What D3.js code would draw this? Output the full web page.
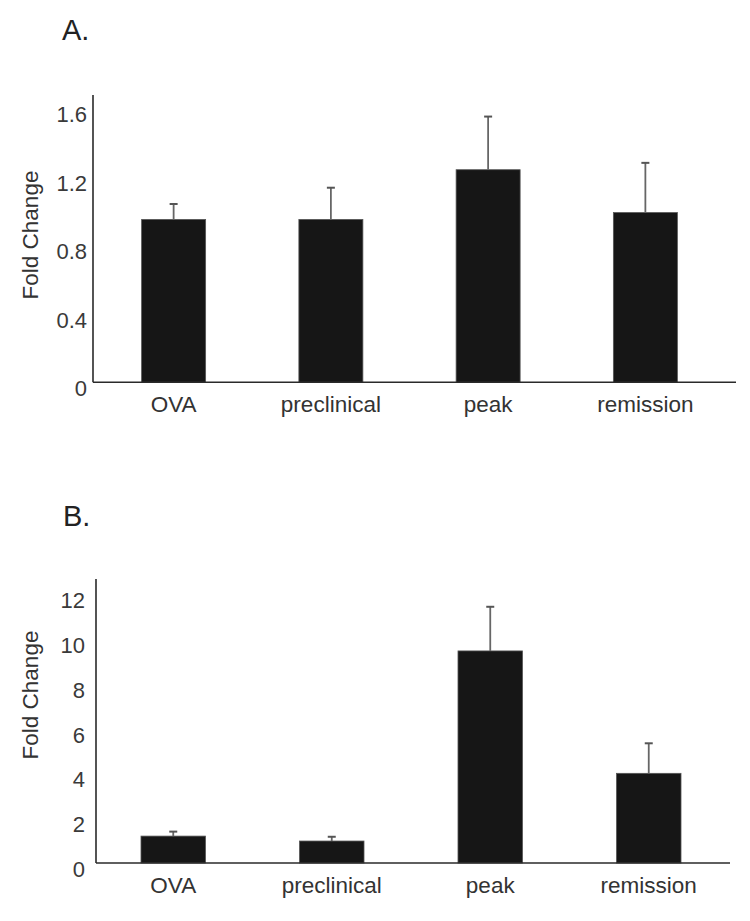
<!DOCTYPE html>
<html>
<head>
<meta charset="utf-8">
<script src="https://cdn.jsdelivr.net/npm/d3@7"></script>
<style>
  html, body { margin: 0; padding: 0; background: #fff; }
  svg { display: block; }
  text { font-family: "Liberation Sans", Arial, Helvetica, sans-serif; fill: #333; }
</style>
</head>
<body>
<svg id="chart" width="750" height="921"></svg>
<script>
// ---- Data ----
const categories = ["OVA", "preclinical", "peak", "remission"];

const panelALabel = "A.";
const panelAMeans = [0.95, 0.95, 1.24, 0.99];
const panelAErrors = [0.09, 0.185, 0.31, 0.29];
const panelATicks = [0, 0.4, 0.8, 1.2, 1.6];
const panelATickLabels = ["0", "0.4", "0.8", "1.2", "1.6"];

const panelBLabel = "B.";
const panelBMeans = [1.2, 0.98, 9.46, 4.0];
const panelBErrors = [0.2, 0.19, 1.97, 1.34];
const panelBTicks = [0, 2, 4, 6, 8, 10, 12];
const panelBTickLabels = ["0", "2", "4", "6", "8", "10", "12"];

const yTitle = "Fold Change";

// ---- Drawing ----
const svg = d3.select("#chart");

function drawPanel(opt) {
  const g = svg.append("g");
  const x = d3.scaleBand()
    .domain(categories)
    .range([opt.bandLeft, opt.bandRight])
    .paddingInner(0.593)
    .paddingOuter(0.2965);
  const y = d3.scaleLinear()
    .domain([0, opt.yMax])
    .range([opt.y0, opt.yTop]);

  // panel letter
  g.append("text")
    .attr("x", opt.letterX).attr("y", opt.letterY)
    .attr("font-size", 29).style("fill", "#222")
    .text(opt.letter);

  // y axis labels (no tick marks)
  const yAxis = d3.axisLeft(y)
    .tickValues(opt.ticks)
    .tickFormat((d, i) => opt.tickLabels[i])
    .tickSize(0)
    .tickPadding(opt.tickPad);
  const ya = g.append("g")
    .attr("transform", `translate(${opt.axisX},0)`)
    .call(yAxis);
  ya.select(".domain").remove();
  ya.selectAll("text")
    .attr("font-size", 22)
    .attr("dy", "0.62em")
    .style("fill", "#3a3a3a");

  // y axis line
  g.append("line")
    .attr("x1", opt.axisX).attr("x2", opt.axisX)
    .attr("y1", opt.axisTop).attr("y2", y(0))
    .attr("stroke", "#2a2a2a").attr("stroke-width", 1.6);

  // bars
  const data = categories.map((c, i) => ({ c, m: opt.means[i], e: opt.errors[i] }));
  g.selectAll("rect.bar").data(data).enter().append("rect")
    .attr("class", "bar")
    .attr("x", d => x(d.c))
    .attr("width", x.bandwidth())
    .attr("y", d => y(d.m))
    .attr("height", d => y(0) - y(d.m))
    .attr("fill", "#161616")
    .attr("stroke", "#555").attr("stroke-width", 0.8);

  // error bars (upper only)
  g.selectAll("line.err").data(data).enter().append("line")
    .attr("class", "err")
    .attr("x1", d => x(d.c) + x.bandwidth() / 2)
    .attr("x2", d => x(d.c) + x.bandwidth() / 2)
    .attr("y1", d => y(d.m))
    .attr("y2", d => y(d.m + d.e))
    .attr("stroke", "#666").attr("stroke-width", 1.8);
  g.selectAll("line.cap").data(data).enter().append("line")
    .attr("class", "cap")
    .attr("x1", d => x(d.c) + x.bandwidth() / 2 - 4)
    .attr("x2", d => x(d.c) + x.bandwidth() / 2 + 4)
    .attr("y1", d => y(d.m + d.e))
    .attr("y2", d => y(d.m + d.e))
    .attr("stroke", "#555").attr("stroke-width", 2);

  // x axis line
  g.append("line")
    .attr("x1", opt.axisX).attr("x2", opt.axisRight)
    .attr("y1", y(0)).attr("y2", y(0))
    .attr("stroke", "#2a2a2a").attr("stroke-width", 1.6);

  // x category labels
  const xAxis = d3.axisBottom(x).tickSize(0).tickPadding(0);
  const xa = g.append("g")
    .attr("transform", `translate(0,${opt.xLabelBaseline})`)
    .call(xAxis);
  xa.select(".domain").remove();
  xa.selectAll("text")
    .attr("font-size", 22.5)
    .attr("dy", 0)
    .attr("y", 0)
    .style("fill", "#333");

  // y title
  g.append("text")
    .attr("transform", `translate(${opt.titleX},${opt.titleY}) rotate(-90)`)
    .attr("text-anchor", "middle")
    .attr("font-size", 22.5)
    .style("fill", "#333")
    .text(yTitle);
}

drawPanel({
  letter: panelALabel, letterX: 62, letterY: 40,
  means: panelAMeans, errors: panelAErrors,
  ticks: panelATicks, tickLabels: panelATickLabels,
  yMax: 1.6, y0: 382.3, yTop: 108,
  axisX: 93, axisTop: 95, axisRight: 736,
  bandLeft: 95, bandRight: 724,
  tickPad: 6, xLabelBaseline: 412,
  titleX: 38, titleY: 235
});

drawPanel({
  letter: panelBLabel, letterX: 63, letterY: 526,
  means: panelBMeans, errors: panelBErrors,
  ticks: panelBTicks, tickLabels: panelBTickLabels,
  yMax: 12, y0: 863, yTop: 594,
  axisX: 96, axisTop: 579, axisRight: 730,
  bandLeft: 94, bandRight: 728,
  tickPad: 11, xLabelBaseline: 893,
  titleX: 38, titleY: 695
});
</script>
</body>
</html>
